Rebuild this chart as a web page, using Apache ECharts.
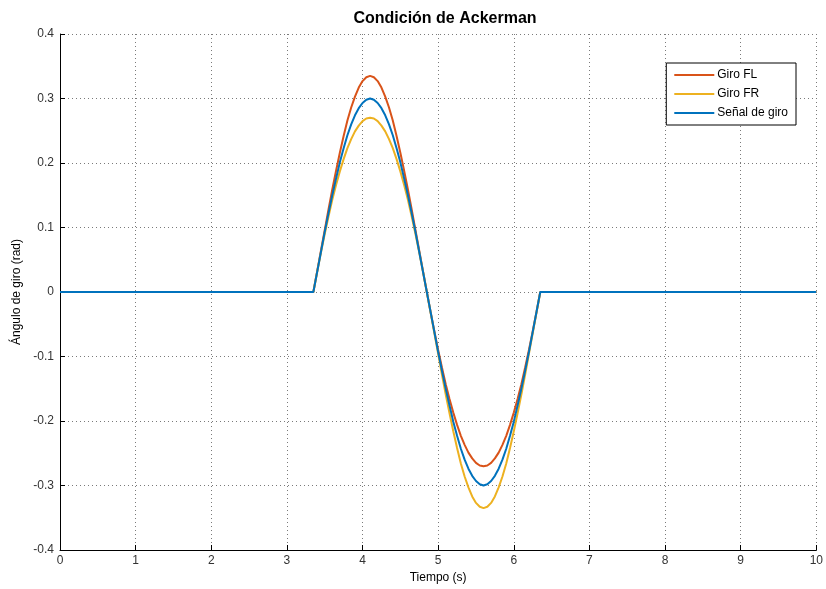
<!DOCTYPE html>
<html>
<head>
<meta charset="utf-8">
<script src="https://cdn.jsdelivr.net/npm/echarts@6/dist/echarts.min.js"></script>
<style>
  html, body { margin: 0; padding: 0; background: #fff; }
  #chart { width: 826px; height: 589px; }
</style>
</head>
<body>
<div id="chart"></div>
<script>
// Time samples (s)
var tiempo = [0,
  3.35, 3.40, 3.45, 3.50, 3.55, 3.60, 3.65, 3.70, 3.75, 3.80, 3.85, 3.90, 3.95, 4.00, 4.05, 4.10,
  4.15, 4.20, 4.25, 4.30, 4.35, 4.40, 4.45, 4.50, 4.55, 4.60, 4.65, 4.70, 4.75, 4.80, 4.85,
  4.90, 4.95, 5.00, 5.05, 5.10, 5.15, 5.20, 5.25, 5.30, 5.35, 5.40, 5.45, 5.50, 5.55, 5.60,
  5.65, 5.70, 5.75, 5.80, 5.85, 5.90, 5.95, 6.00, 6.05, 6.10, 6.15, 6.20, 6.25, 6.30, 6.35,
  10];

// Steering input (rad)
var senalGiro = [0,
  0, 0.031, 0.062, 0.093, 0.122, 0.150, 0.176, 0.201, 0.223, 0.243, 0.260, 0.274, 0.285, 0.293, 0.298, 0.300,
  0.298, 0.293, 0.285, 0.274, 0.260, 0.243, 0.223, 0.201, 0.176, 0.150, 0.122, 0.093, 0.062, 0.031, 0,
  -0.031, -0.062, -0.093, -0.122, -0.150, -0.176, -0.201, -0.223, -0.243, -0.260, -0.274, -0.285, -0.293, -0.298, -0.300,
  -0.298, -0.293, -0.285, -0.274, -0.260, -0.243, -0.223, -0.201, -0.176, -0.150, -0.122, -0.093, -0.062, -0.031, 0,
  0];

// Front-left wheel angle (rad)
var giroFL = [0,
  0, 0.032, 0.064, 0.096, 0.128, 0.159, 0.188, 0.216, 0.242, 0.266, 0.286, 0.303, 0.317, 0.327, 0.333, 0.335,
  0.333, 0.327, 0.317, 0.303, 0.286, 0.266, 0.242, 0.216, 0.188, 0.159, 0.128, 0.096, 0.064, 0.032, 0,
  -0.031, -0.061, -0.090, -0.117, -0.143, -0.166, -0.187, -0.206, -0.223, -0.237, -0.249, -0.258, -0.265, -0.269, -0.270,
  -0.269, -0.265, -0.258, -0.249, -0.237, -0.223, -0.206, -0.187, -0.166, -0.143, -0.117, -0.090, -0.061, -0.031, 0,
  0];

// Front-right wheel angle (rad)
var giroFR = [0,
  0, 0.031, 0.061, 0.090, 0.117, 0.143, 0.166, 0.187, 0.206, 0.223, 0.237, 0.249, 0.258, 0.265, 0.269, 0.270,
  0.269, 0.265, 0.258, 0.249, 0.237, 0.223, 0.206, 0.187, 0.166, 0.143, 0.117, 0.090, 0.061, 0.031, 0,
  -0.032, -0.064, -0.096, -0.128, -0.159, -0.188, -0.216, -0.242, -0.266, -0.286, -0.303, -0.317, -0.327, -0.333, -0.335,
  -0.333, -0.327, -0.317, -0.303, -0.286, -0.266, -0.242, -0.216, -0.188, -0.159, -0.128, -0.096, -0.064, -0.032, 0,
  0];

var xTicks = [0, 1, 2, 3, 4, 5, 6, 7, 8, 9, 10];
var yTicks = [-0.4, -0.3, -0.2, -0.1, 0, 0.1, 0.2, 0.3, 0.4];

function pares(ys) {
  return tiempo.map(function (t, i) { return [t, ys[i]]; });
}

var fuente = 'Liberation Sans, Arial, Helvetica, sans-serif';
var rejilla = { show: true, lineStyle: { color: '#7a7a7a', type: [1, 3], width: 1 } };

var chart = echarts.init(document.getElementById('chart'), null, { renderer: 'canvas' });
chart.setOption({
  animation: false,
  backgroundColor: '#ffffff',
  title: {
    text: 'Condición de Ackerman',
    left: 440, top: 6, textAlign: 'center',
    textStyle: { fontFamily: fuente, fontSize: 16, fontWeight: 'bold', color: '#000' }
  },
  grid: { left: 60, right: 6, top: 34, bottom: 39 },
  legend: {
    orient: 'vertical',
    right: 30, top: 63,
    padding: [6, 8, 6, 8],
    itemGap: 7,
    itemWidth: 40, itemHeight: 2,
    icon: 'rect',
    backgroundColor: '#fff',
    borderColor: '#000', borderWidth: 1, borderRadius: 0,
    textStyle: { fontFamily: fuente, fontSize: 12, color: '#000', padding: [0, 0, 0, -2] },
    data: ['Giro FL', 'Giro FR', 'Señal de giro']
  },
  xAxis: {
    type: 'value', min: xTicks[0], max: xTicks[xTicks.length - 1], interval: 1,
    name: 'Tiempo (s)', nameLocation: 'middle', nameGap: 22,
    nameTextStyle: { fontFamily: fuente, fontSize: 12, color: '#000' },
    axisLine: { show: true, onZero: false, lineStyle: { color: '#000', width: 1 } },
    axisTick: { show: true, inside: true, length: 5, lineStyle: { color: '#000' } },
    axisLabel: { fontFamily: fuente, fontSize: 12, color: '#333', margin: 5 },
    splitLine: rejilla
  },
  yAxis: {
    type: 'value', min: yTicks[0], max: yTicks[yTicks.length - 1], interval: 0.1,
    name: 'Ángulo de giro (rad)', nameLocation: 'middle', nameGap: 35,
    nameTextStyle: { fontFamily: fuente, fontSize: 12, color: '#000' },
    axisLine: { show: true, onZero: false, lineStyle: { color: '#000', width: 1 } },
    axisTick: { show: true, inside: true, length: 5, lineStyle: { color: '#000' } },
    axisLabel: {
      fontFamily: fuente, fontSize: 12, color: '#333', margin: 6,
      formatter: function (v) { return String(Math.round(v * 10) / 10); }
    },
    splitLine: rejilla
  },
  series: [
    { name: 'Giro FL', type: 'line', data: pares(giroFL), showSymbol: false,
      color: '#D95319', lineStyle: { width: 2, color: '#D95319' } },
    { name: 'Giro FR', type: 'line', data: pares(giroFR), showSymbol: false,
      color: '#EDB120', lineStyle: { width: 2, color: '#EDB120' } },
    { name: 'Señal de giro', type: 'line', data: pares(senalGiro), showSymbol: false,
      color: '#0072BD', lineStyle: { width: 2, color: '#0072BD' } }
  ]
});
</script>
</body>
</html>
